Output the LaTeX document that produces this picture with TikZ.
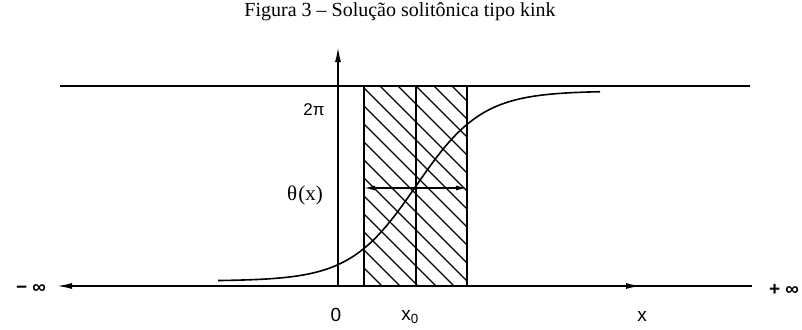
\documentclass[tikz,border=0pt]{standalone}
\usepackage{fontspec}
\setmainfont{Liberation Serif}
\newfontfamily\labelfont{Liberation Sans}
\usetikzlibrary{arrows.meta}
\tikzset{
    axisline/.style={line width=1.6pt},
    thinline/.style={line width=1.3pt},
    lbl/.style={font=\labelfont\fontsize{19}{21}\selectfont, inner sep=1pt},
    infl/.style={font=\labelfont\bfseries\fontsize{19}{21}\selectfont, inner sep=1pt},
}
\begin{document}
\begin{tikzpicture}[x=1pt, y=-1pt, >={Latex[length=15pt,width=6pt]}]
    \useasboundingbox (0,0) rectangle (802,329);
    % titulo
    \node[font=\fontsize{20}{23}\selectfont] (titulo) at (400,12) {Figura 3 – Solução solitônica tipo kink};

    % pontos dos eixos
    \coordinate (o) at (338,286);
    \coordinate (ytop) at (338,47);
    \coordinate (esq) at (57,286);
    \coordinate (dir) at (752,286);
    \coordinate (meio) at (641,286);
    \coordinate (tesq) at (60,86);
    \coordinate (tdir) at (750,86);

    % faixa hachurada
    \begin{scope}
        \clip (364,86) rectangle (467,286);
        \foreach \c in {60,78,...,400} {
            \draw[thinline] (364,{364-\c}) -- (467,{467-\c});
        }
    \end{scope}
    \draw[thinline] (364,86) rectangle (467,286);
    \draw[thinline] (416,86) -- (416,286);

    % eixos e linha de 2pi
    \draw[axisline] (tesq) -- (tdir);
    \draw[axisline, <-] (esq) -- (dir);
    \draw[axisline, ->] (o) -- (meio);
    \draw[axisline, ->] (o) -- (ytop);

    % largura do kink
    \coordinate (la) at (364,188);
    \coordinate (lb) at (467,188);
    \draw[thinline, {Latex[length=11pt,width=5pt]}-{Latex[length=11pt,width=5pt]}] (la) -- (lb);

    % solucao kink
    \draw[axisline, smooth] plot[domain=218:600, samples=90] (\x, {186-95*tanh((\x-416)/66)});

    % rotulos
    \node[lbl, font=\labelfont\fontsize{17}{19}\selectfont] (doispi) at (314,110) {2π};
    \node[font=\fontsize{21}{23}\selectfont] (theta) at (305,195) {θ\kern1pt(x)};
    \node[lbl] (zero) at (336,315) {0};
    \node[lbl] (xzero) at (410,317) {x\textsubscript{0}};
    \node[lbl] (xlab) at (642,316) {x};
    \node[infl] (minf) at (31,289) {− ∞};
    \node[infl] (pinf) at (784,290) {+ ∞};
\end{tikzpicture}
\end{document}
